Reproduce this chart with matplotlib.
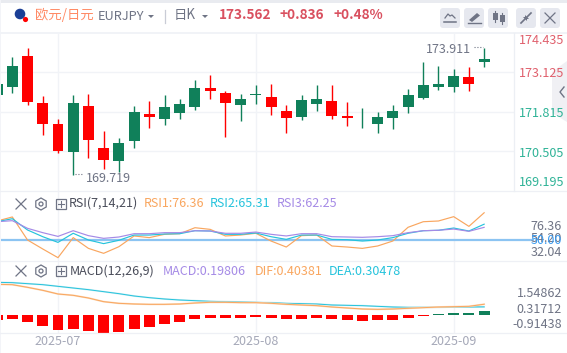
### EURJPY daily candles with RSI and MACD panes

import matplotlib
matplotlib.use("Agg")
import matplotlib.pyplot as plt
from matplotlib.patches import Circle, FancyBboxPatch, Polygon, Rectangle, RegularPolygon

plt.rcParams['font.family'] = ['Noto Sans CJK SC', 'DejaVu Sans']

opens = [172.362, 172.628, 173.656, 172.097, 171.400, 170.472, 171.997, 170.604, 170.173, 170.837, 171.732,
         171.566, 171.765, 171.964, 172.594, 172.429, 172.031, 172.362, 172.296, 171.832, 171.633, 172.064,
         172.163, 171.666, 171.522, 171.400, 171.599, 171.964, 172.263, 172.628, 172.628, 172.959, 173.457]
closes = [172.727, 173.324, 172.130, 171.400, 170.505, 172.097, 170.870, 170.206, 170.770, 171.798, 171.633,
          171.964, 172.064, 172.594, 172.495, 172.097, 172.230, 172.395, 171.964, 171.599, 172.196, 172.230,
          171.666, 171.599, 171.544, 171.633, 171.832, 172.362, 172.694, 172.727, 172.992, 172.727, 173.562]
highs = [172.727, 173.622, 173.921, 172.329, 171.566, 172.362, 172.395, 171.168, 170.936, 171.997, 172.163,
         172.362, 172.230, 172.860, 173.026, 172.495, 172.395, 172.694, 172.727, 172.031, 172.362, 172.694,
         172.694, 172.130, 171.931, 171.798, 172.031, 172.561, 173.457, 173.324, 173.224, 173.291, 173.911]
lows = [172.362, 172.429, 172.031, 171.036, 170.439, 169.719, 170.273, 169.908, 169.809, 170.604, 171.268,
        171.367, 171.566, 171.865, 172.230, 170.969, 171.500, 172.064, 171.699, 171.102, 171.533, 171.832,
        171.566, 171.334, 171.268, 171.102, 171.235, 171.765, 172.230, 172.528, 172.462, 172.495, 173.291]

rsi1 = [68.4, 72.3, 50.0, 41.3, 32.9, 52.3, 41.9, 37.1, 43.5, 53.9, 52.3, 55.5, 56.1, 61.9, 60.3, 53.9, 54.8,
        56.5, 49.0, 43.2, 54.2, 54.8, 44.2, 43.2, 41.9, 44.2, 49.0, 62.3, 67.7, 68.4, 72.6, 63.2, 76.36]
rsi2 = [67.7, 70.6, 59.7, 53.2, 47.7, 56.5, 50.0, 46.5, 49.7, 54.8, 54.8, 55.8, 56.1, 59.0, 58.7, 55.5, 55.5,
        56.8, 53.2, 50.6, 54.8, 54.8, 50.6, 50.3, 49.0, 50.0, 52.3, 56.5, 59.0, 59.4, 61.6, 58.7, 65.31]
rsi3 = [67.7, 68.7, 61.3, 57.1, 53.5, 59.0, 54.2, 51.6, 52.9, 56.1, 56.1, 57.1, 57.1, 59.0, 58.7, 56.5, 56.5,
        57.7, 55.5, 53.9, 56.1, 56.1, 53.2, 52.9, 52.6, 53.2, 54.2, 57.1, 59.0, 59.4, 60.6, 58.4, 62.25]

dif = [1.15, 1.1375, 1.0375, 0.925, 0.7875, 0.7375, 0.6375, 0.5, 0.4375, 0.4125, 0.4, 0.4, 0.4125, 0.45, 0.475,
       0.475, 0.4625, 0.4625, 0.4375, 0.4, 0.375, 0.35, 0.3, 0.2625, 0.225, 0.2125, 0.225, 0.25, 0.275, 0.3,
       0.3125, 0.325, 0.40381]
dea = [1.225, 1.2125, 1.175, 1.1375, 1.075, 1.0125, 0.95, 0.875, 0.8, 0.7125, 0.65, 0.6, 0.5625, 0.5375, 0.5125,
       0.5, 0.4875, 0.475, 0.4625, 0.4375, 0.425, 0.4125, 0.375, 0.3625, 0.35, 0.325, 0.3, 0.2875, 0.2875,
       0.2875, 0.3, 0.3, 0.30478]
macd = [-0.19, -0.15, -0.26, -0.41, -0.55, -0.525, -0.60, -0.675, -0.64, -0.525, -0.45, -0.34, -0.26, -0.15,
        -0.11, -0.11, -0.11, -0.06, -0.11, -0.15, -0.15, -0.11, -0.15, -0.19, -0.22, -0.19, -0.19, -0.11,
        -0.04, 0.03, 0.075, 0.075, 0.15]

price_grid = [173.125, 171.815, 170.505]
month_idx = [4, 17, 30]
month_labels = ['2025-07', '2025-08', '2025-09']

GREEN = '#10805a'
RED = '#ff0000'
GRID = '#f1f3f7'
GREY = '#6f7485'
ORANGE = '#f9a65f'
CYAN = '#25c3dc'
PURPLE = '#a58ae6'
W, H = 567, 353
STEP = 15.22
X0 = -2.9


def pane(x1, x2, y1, y2):
    ax = fig.add_axes([x1 / W, 1 - y2 / H, (x2 - x1) / W, (y2 - y1) / H])
    ax.set_xlim((x1 - X0) / STEP, (x2 - X0) / STEP)
    ax.axis('off')
    for i in month_idx:
        ax.axvline(i, color=GRID, lw=1, zorder=0)
    return ax


def txt(x, y, s, color=GREY, size=9.0, ha='left', **kw):
    over.text(x, y, s, color=color, fontsize=size, ha=ha, va='center', **kw)


def button(x, y, w=20):
    over.add_patch(FancyBboxPatch((x + 3, y + 3), w - 6, w - 6, boxstyle='round,pad=3', fc='#e6e8ef', ec='none'))


def pane_icons(y):
    over.plot([16, 26], [y - 5, y + 5], color=GREY, lw=0.9)
    over.plot([16, 26], [y + 5, y - 5], color=GREY, lw=0.9)
    over.add_patch(RegularPolygon((41, y), 6, radius=6, fc='none', ec=GREY, lw=0.9))
    over.add_patch(Circle((41, y), 2, fc='none', ec=GREY, lw=0.9))
    over.add_patch(Rectangle((55.5, y - 5), 10, 10, fc='none', ec=GREY, lw=0.9))
    over.plot([57.5, 63.5], [y, y], color=GREY, lw=0.8)
    over.plot([60.5, 60.5], [y - 3, y + 3], color=GREY, lw=0.8)


fig = plt.figure(figsize=(W / 100, H / 100), dpi=100)
fig.patch.set_facecolor('white')

# candles
ax1 = pane(1, 514, 32.5, 190.5)
ax1.set_ylim(169.195, 174.435)
for v in price_grid:
    ax1.axhline(v, color=GRID, lw=1, zorder=0)
for i in range(len(opens)):
    c = GREEN if closes[i] >= opens[i] else RED
    ax1.vlines(i, lows[i], highs[i], color=c, lw=1).set_snap(True)
    ax1.bar(i, abs(closes[i] - opens[i]), bottom=min(opens[i], closes[i]), width=0.72, color=c, lw=0)

# rsi
ax2 = pane(1, 567, 191, 260.5)
ax2.set_ylim(50 - 20.5 / 1.033, 50 + 49 / 1.033)
ax2.axhline(50, xmax=0.94, color='#8cc4f2', lw=1.6, zorder=1)
xs = range(len(rsi1))
ax2.plot(xs, rsi1, color=ORANGE, lw=0.85)
ax2.plot(xs, rsi2, color=CYAN, lw=0.85)
ax2.plot(xs, rsi3, color=PURPLE, lw=0.85)

# macd
ax3 = pane(1, 567, 260.5, 333)
ax3.set_ylim(-18 / 26.67, 54.5 / 26.67)
ax3.plot(xs, dea, color='#cdeef4', lw=1.3)
ax3.plot(xs, dea, color=CYAN, lw=0.7)
ax3.plot(xs, dif, color='#fcdcbd', lw=1.3)
ax3.plot(xs, dif, color=ORANGE, lw=0.7)
ax3.bar(xs, macd, width=0.72, color=[GREEN if m > 0 else RED for m in macd], lw=0)

# everything around the panes, in pixels
over = fig.add_axes([0, 0, 1, 1], zorder=5)
over.set_xlim(0, W)
over.set_ylim(H, 0)
over.axis('off')

over.add_patch(Rectangle((0, 0), W, 2.5, fc='#e9ebf0', ec='none'))
over.add_patch(Rectangle((0, 0), 1, H, fc='#f3f4f8', ec='none'))
over.plot([0, W], [33, 33], color='#f1f3f7', lw=1.4)
for y in [191, 260.5, 333.3]:
    over.plot([0, W], [y, y], color='#eef0f5', lw=0.9)
over.plot([514, 514], [33, 191], color='#eceff4', lw=0.9)

# header
over.add_patch(Circle((20, 14), 5.3, fc='#1b3f96', ec='none'))
over.add_patch(Circle((25.5, 19.5), 2.6, fc='#ff0000', ec='none'))
txt(35, 14.5, '欧元/日元', color='#ff8a65', size=9.6)
txt(97.5, 16, 'EURJPY', size=9.2)
over.add_patch(Polygon([[148, 15], [154, 15], [151, 18]], fc=GREY, ec='none'))
over.plot([164.5, 164.5], [10, 23], color='#c9ccd6', lw=0.9)
txt(174, 14.5, '日K', size=9.6)
over.add_patch(Polygon([[202, 15], [208, 15], [205, 18]], fc=GREY, ec='none'))
txt(219, 15, '173.562', color='#d9505f', size=9.8, fontweight='bold')
txt(280, 15, '+0.836', color='#d9505f', size=9.8, fontweight='bold')
txt(334, 15, '+0.48%', color='#d9505f', size=9.8, fontweight='bold')

for bx in [440, 464, 488, 516, 540]:
    button(bx, 8)
over.plot([445, 448, 450, 452, 455], [18, 14, 16, 15, 18], color=GREY, lw=0.9)
over.plot([444, 456], [22, 22], color=GREY, lw=1.1)
over.add_patch(Polygon([[469, 20], [477, 13], [480, 15.5], [472, 22]], fc=GREY, ec='none'))
over.plot([468, 481], [23, 23], color=GREY, lw=1)
for cx, y1, y2 in [(495, 13, 20), (502, 15, 22)]:
    over.add_patch(Rectangle((cx - 2.5, y1), 5, y2 - y1, fc=GREY, ec='none'))
    over.plot([cx, cx], [y1 - 2, y2 + 2], color=GREY, lw=0.8)
over.plot([521, 525], [23, 19], color=GREY, lw=1.2)
over.plot([527, 531], [17, 13], color=GREY, lw=1.2)
over.add_patch(Polygon([[523, 17], [527, 17], [527, 21]], fc=GREY, ec='none'))
over.add_patch(Polygon([[525, 19], [529, 19], [525, 15]], fc=GREY, ec='none'))
over.plot([545, 555], [13, 23], color=GREY, lw=0.9)
over.plot([545, 555], [23, 13], color=GREY, lw=0.9)

# main pane labels
txt(86, 178, '169.719')
over.plot([75, 83], [174, 174], color=GREY, lw=0.8, ls=(0, (1, 1.6)))
txt(426, 49.5, '173.911')
over.plot([474, 483], [47, 47], color=GREY, lw=0.8, ls=(0, (1, 1.6)))
txt(519, 40.5, '174.435', color='#e0606d', size=9.1)
txt(519, 73.5, '173.125', color='#e0606d', size=9.1)
txt(519, 113.5, '171.815', color='#2fb397', size=9.1)
txt(519, 153.5, '170.505', color='#2fb397', size=9.1)
txt(519, 182.5, '169.195', color='#2fb397', size=9.1)

over.add_patch(Polygon([[552, 72], [567, 61], [567, 122], [552, 113]], fc='#eeeef3', ec='none', alpha=0.85))
over.plot([564, 560, 564], [87, 92, 97], color=GREY, lw=1)

# rsi labels
pane_icons(204)
txt(69, 203.5, 'RSI(7,14,21)', color='#4a4d5a')
txt(144, 203.5, 'RSI1:76.36', color=ORANGE)
txt(210, 203.5, 'RSI2:65.31', color=CYAN)
txt(277, 203.5, 'RSI3:62.25', color=PURPLE)
txt(562, 226, '76.36', ha='right')
txt(562, 238, '54.20', ha='right')
txt(562, 241, '50.00', color='#3a9bf0', ha='right')
txt(562, 252, '32.04', ha='right')

# macd labels
pane_icons(271)
txt(69.5, 271.5, 'MACD(12,26,9)', color='#4a4d5a')
txt(163, 271.5, 'MACD:0.19806', color=PURPLE)
txt(255, 271.5, 'DIF:0.40381', color=ORANGE)
txt(329, 271.5, 'DEA:0.30478', color=CYAN)
txt(562, 293.5, '1.54862', ha='right')
txt(562, 309.5, '0.31712', ha='right')
txt(562, 324.5, '-0.91438', ha='right')

for i, lab in zip(month_idx, month_labels):
    txt(X0 + i * STEP, 341.5, lab, color='#a5a8b8', ha='center')

fig.savefig('out.png', dpi=100)
